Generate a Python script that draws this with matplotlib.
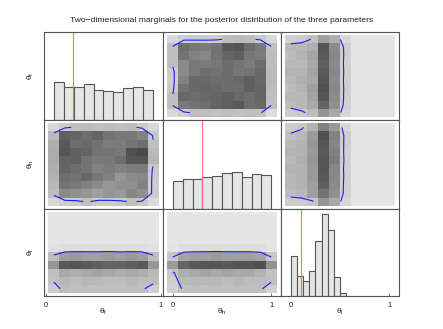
import numpy as np
import matplotlib
matplotlib.use('Agg')
import matplotlib.pyplot as plt
from matplotlib.colors import LinearSegmentedColormap

plt.rcParams['font.family'] = ['Liberation Sans', 'DejaVu Sans']
plt.rcParams['mathtext.fontset'] = 'custom'
plt.rcParams['mathtext.rm'] = 'Liberation Sans'
plt.rcParams['mathtext.it'] = 'Liberation Sans'

# parameters and their true values (red lines)
param_names = ['f', 'h', 'l']
true_vals = [0.19, 0.30, 0.10]

# one-dimensional marginals (bar heights, fraction of panel height)
hist_f = [0.436, 0.379, 0.379, 0.405, 0.341, 0.330, 0.322, 0.367, 0.379, 0.337]
hist_h = [0.315, 0.333, 0.341, 0.360, 0.371, 0.408, 0.419, 0.363, 0.393, 0.386]
hist_l = [0.465, 0.225, 0.171, 0.287, 0.632, 0.938, 0.756, 0.213, 0.031, 0.004]
bin_w = [0.1, 0.1, 1 / 16]

# two-dimensional marginals, 10x10, rows listed from top (y high) to bottom
dens_fh = [  # x = theta_h, y = theta_f
    [8, 14, 15, 15, 16, 24, 26, 24, 17, 8],
    [22, 72, 66, 63, 69, 84, 87, 72, 66, 22],
    [22, 69, 60, 57, 69, 78, 81, 66, 63, 24],
    [23, 54, 66, 63, 66, 72, 69, 63, 72, 24],
    [15, 54, 66, 72, 69, 72, 66, 69, 75, 25],
    [14, 60, 75, 75, 72, 72, 75, 81, 75, 26],
    [15, 69, 75, 78, 75, 72, 72, 81, 78, 24],
    [22, 75, 72, 75, 78, 81, 75, 72, 78, 23],
    [22, 66, 69, 72, 78, 81, 84, 72, 75, 22],
    [8, 15, 24, 24, 22, 24, 22, 24, 22, 5],
]
dens_fl = [  # x = theta_l, y = theta_f
    [12, 15, 21, 42, 33, 8, 0, 0, 0, 0],
    [27, 27, 33, 87, 54, 13, 0, 0, 0, 0],
    [24, 30, 39, 84, 57, 13, 0, 0, 0, 0],
    [27, 27, 36, 81, 54, 12, 0, 0, 0, 0],
    [30, 30, 39, 84, 57, 13, 0, 0, 0, 0],
    [27, 33, 36, 87, 54, 12, 0, 0, 0, 0],
    [24, 30, 42, 90, 57, 13, 0, 0, 0, 0],
    [27, 27, 39, 87, 54, 13, 0, 0, 0, 0],
    [24, 27, 36, 78, 51, 12, 0, 0, 0, 0],
    [15, 18, 24, 48, 36, 8, 0, 0, 0, 0],
]
dens_hf = [  # x = theta_f, y = theta_h
    [8, 16, 23, 24, 22, 24, 22, 24, 16, 8],
    [26, 81, 78, 72, 78, 69, 66, 66, 60, 18],
    [32, 84, 72, 75, 69, 63, 63, 69, 72, 22],
    [34, 87, 81, 78, 69, 69, 66, 90, 93, 26],
    [34, 78, 81, 69, 66, 66, 72, 87, 87, 28],
    [32, 78, 72, 69, 60, 63, 60, 63, 63, 17],
    [30, 72, 69, 75, 66, 60, 48, 54, 57, 15],
    [28, 69, 66, 60, 54, 48, 51, 51, 60, 14],
    [24, 54, 51, 48, 42, 48, 45, 57, 51, 15],
    [8, 14, 16, 22, 16, 15, 17, 22, 18, 6],
]
dens_hl = [  # x = theta_l, y = theta_h
    [15, 18, 30, 60, 45, 8, 0, 0, 0, 0],
    [22, 27, 45, 90, 60, 13, 0, 0, 0, 0],
    [27, 30, 48, 87, 57, 13, 0, 0, 0, 0],
    [30, 30, 45, 84, 60, 12, 0, 0, 0, 0],
    [27, 33, 48, 87, 63, 13, 0, 0, 0, 0],
    [30, 30, 45, 87, 57, 12, 0, 0, 0, 0],
    [27, 30, 45, 84, 57, 13, 0, 0, 0, 0],
    [27, 30, 42, 81, 54, 12, 0, 0, 0, 0],
    [24, 27, 42, 69, 51, 12, 0, 0, 0, 0],
    [15, 15, 18, 48, 36, 8, 0, 0, 0, 0],
]
dens_lf = [  # x = theta_f, y = theta_l
    [0, 0, 0, 0, 0, 0, 0, 0, 0, 0],
    [0, 0, 0, 0, 0, 0, 0, 0, 0, 0],
    [0, 0, 0, 0, 0, 0, 0, 0, 0, 0],
    [0, 0, 0, 0, 0, 0, 0, 0, 0, 0],
    [2, 4, 4, 5, 5, 5, 4, 4, 4, 2],
    [24, 42, 45, 42, 42, 45, 42, 45, 42, 24],
    [48, 84, 87, 84, 81, 78, 78, 81, 84, 48],
    [22, 36, 33, 36, 39, 36, 33, 36, 33, 27],
    [21, 27, 24, 27, 27, 24, 24, 27, 24, 24],
    [15, 24, 22, 23, 22, 23, 22, 23, 22, 14],
]
dens_lh = [  # x = theta_h, y = theta_l
    [0, 0, 0, 0, 0, 0, 0, 0, 0, 0],
    [0, 0, 0, 0, 0, 0, 0, 0, 0, 0],
    [0, 0, 0, 0, 0, 0, 0, 0, 0, 0],
    [0, 0, 0, 0, 0, 0, 0, 0, 0, 0],
    [1, 4, 5, 5, 5, 5, 5, 5, 4, 1],
    [18, 39, 42, 42, 45, 42, 42, 42, 39, 18],
    [45, 78, 84, 87, 87, 84, 87, 87, 90, 50],
    [18, 33, 36, 39, 36, 39, 36, 36, 30, 21],
    [14, 27, 27, 27, 27, 24, 27, 24, 24, 22],
    [12, 22, 23, 22, 23, 22, 23, 22, 22, 12],
]

hists = [hist_f, hist_h, hist_l]
dens = {(0, 1): dens_fh, (0, 2): dens_fl, (1, 0): dens_hf,
        (1, 2): dens_hl, (2, 0): dens_lf, (2, 1): dens_lh}
contour_level = 20
xtick_pos = [[-0.08, 1.08], [0, 1], [0, 1]]

W, H = 443, 329
xe = [44, 163, 281, 399]
ye = [32, 120, 209, 296]

fig = plt.figure(figsize=(W / 100, H / 100), dpi=100)
cmap = LinearSegmentedColormap.from_list('grey', ['#e5e5e5', '#404040'])
centers = np.linspace(0, 1, 10)
half = 0.5 / 9

for r in range(3):
    for c in range(3):
        ax = fig.add_axes([xe[c] / W, 1 - ye[r + 1] / H,
                           (xe[c + 1] - xe[c]) / W, (ye[r + 1] - ye[r]) / H])
        ax.set_xlim(-0.1, 1.1)
        if r == c:
            n = len(hists[r])
            left = np.arange(n) * bin_w[r]
            ax.bar(left, hists[r], width=bin_w[r], align='edge', color='#e5e5e5',
                   edgecolor='#555555', linewidth=0.8)
            ax.axvline(true_vals[r], color='#ff6f6f', linewidth=0.8)
            ax.set_ylim(0, 1)
        else:
            z = np.array(dens[(r, c)], dtype=float)
            ax.imshow(z, cmap=cmap, vmin=0, vmax=100, aspect='auto',
                      extent=(-half, 1 + half, -half, 1 + half), interpolation='nearest')
            ax.contour(centers, centers, z[::-1], levels=[contour_level],
                       colors='#1a1aff', linewidths=0.8)
            ax.set_ylim(-0.1, 1.1)
        for s in ax.spines.values():
            s.set_color('#555555')
            s.set_linewidth(0.8)
        ax.set_yticks([])
        if r == 2:
            ax.set_xticks(xtick_pos[c])
            ax.set_xticklabels(['0', '1'])
            ax.tick_params(axis='x', direction='in', length=2, width=0.6,
                           color='#555555', labelsize=5.5, pad=4, labelcolor='#222222')
        else:
            ax.set_xticks([])

for i, p in enumerate(param_names):
    lab = r'$\mathrm{\theta}_{\mathrm{%s}}$' % p
    fig.text((xe[i] + xe[i + 1]) / 2 / W, 1 - 312 / H, lab, ha='center', va='center',
             fontsize=6, color='#222222')
    fig.text(31 / W, 1 - (ye[i] + ye[i + 1]) / 2 / H, lab, ha='center', va='center',
             rotation=90, fontsize=6, color='#222222')

fig.text(222 / W, 1 - 20 / H,
         'Two\u2212dimensional marginals for the posterior distribution of the three parameters',
         ha='center', va='center', fontsize=6.1, color='#222222')

fig.savefig('out.png', dpi=100)
